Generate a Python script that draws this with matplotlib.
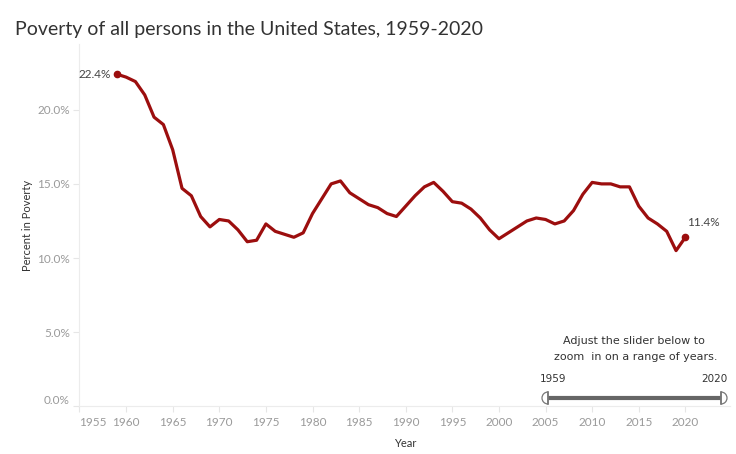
import matplotlib.pyplot as plt
from matplotlib.patches import Wedge
from matplotlib.lines import Line2D

years = list(range(1959, 2021))
poverty = [22.4, 22.2, 21.9, 21.0, 19.5, 19.0, 17.3, 14.7, 14.2, 12.8,
           12.1, 12.6, 12.5, 11.9, 11.1, 11.2, 12.3, 11.8, 11.6, 11.4,
           11.7, 13.0, 14.0, 15.0, 15.2, 14.4, 14.0, 13.6, 13.4, 13.0,
           12.8, 13.5, 14.2, 14.8, 15.1, 14.5, 13.8, 13.7, 13.3, 12.7,
           11.9, 11.3, 11.7, 12.1, 12.5, 12.7, 12.6, 12.3, 12.5, 13.2,
           14.3, 15.1, 15.0, 15.0, 14.8, 14.8, 13.5, 12.7, 12.3, 11.8,
           10.5, 11.4]
x_ticks = list(range(1955, 2025, 5))
y_ticks = [0, 5, 10, 15, 20]

plt.rcParams['font.family'] = ['Lato', 'DejaVu Sans']
red = '#9c0e0e'
grey = '#9a9a9a'
W, H = 736, 454

fig = plt.figure(figsize=(W / 100, H / 100), dpi=100)
ax = fig.add_axes([0.108, 0.105, 0.884, 0.797])

ax.plot(years, poverty, color=red, lw=2.3, solid_capstyle='round', solid_joinstyle='round')
ax.plot([years[0], years[-1]], [poverty[0], poverty[-1]], 'o', color=red, ms=4.5)

ax.text(years[0] - 0.6, poverty[0], f'{poverty[0]}%', ha='right', va='center',
        fontsize=8.5, color='#444444')
ax.text(years[-1] + 0.2, poverty[-1] + 0.65, f'{poverty[-1]}%', ha='left', va='bottom',
        fontsize=8.5, color='#444444')

ax.set_xlim(1955, 2024.8)
ax.set_ylim(0, 24.4)
ax.set_xticks(x_ticks)
ax.set_xticklabels([str(y) for y in x_ticks])
ax.get_xticklabels()[0].set_ha('left')
ax.set_yticks(y_ticks)
ax.set_yticklabels([f'{v:.1f}%' for v in y_ticks])
ax.get_yticklabels()[0].set_va('bottom')

ax.tick_params(axis='both', colors='#e6e6e6', labelcolor=grey, labelsize=8.5, length=4, width=0.8)
ax.tick_params(axis='x', pad=4)
ax.tick_params(axis='y', pad=3)
for side in ['top', 'right']:
    ax.spines[side].set_visible(False)
for side in ['left', 'bottom']:
    ax.spines[side].set_color('#ececec')
    ax.spines[side].set_linewidth(0.8)

ax.set_ylabel('Percent in Poverty', fontsize=8, color='#333333')
ax.yaxis.set_label_coords(-0.0715, 0.5)
ax.set_xlabel('Year', fontsize=8, color='#333333')
ax.xaxis.set_label_coords(0.5, -0.088)

fig.text(15 / W, 1 - 30 / H, 'Poverty of all persons in the United States, 1959-2020',
         fontsize=14, color='#333333', va='center', ha='left')

# slider widget
sfont = ['DejaVu Sans']
fig.text(634 / W, 1 - 341 / H, 'Adjust the slider below to', fontsize=8, family=sfont,
         color='#333333', ha='center', va='center')
fig.text(636 / W, 1 - 357 / H, 'zoom  in on a range of years.', fontsize=8, family=sfont,
         color='#333333', ha='center', va='center')
fig.text(553 / W, 1 - 379 / H, '1959', fontsize=7.5, family=sfont, color='#333333',
         ha='center', va='center')
fig.text(714 / W, 1 - 379 / H, '2020', fontsize=7.5, family=sfont, color='#333333',
         ha='center', va='center')

sx0, sx1, sy, r = 548, 721, 398, 6
fig.add_artist(Line2D([sx0 / W, sx1 / W], [1 - sy / H] * 2, color='#666666', lw=3,
                      transform=fig.transFigure))
for cx, t1, t2 in [(sx0, 90, 270), (sx1, 270, 90)]:
    fig.add_artist(Wedge((cx / 100, (H - sy) / 100), r / 100, t1, t2, facecolor='white',
                         edgecolor='#777777', lw=0.9, transform=fig.dpi_scale_trans, zorder=5))
    fig.add_artist(Line2D([cx / W] * 2, [1 - (sy - r) / H, 1 - (sy + r) / H],
                          color='#777777', lw=1.2, transform=fig.transFigure, zorder=6))

fig.savefig('out.png', dpi=100)
